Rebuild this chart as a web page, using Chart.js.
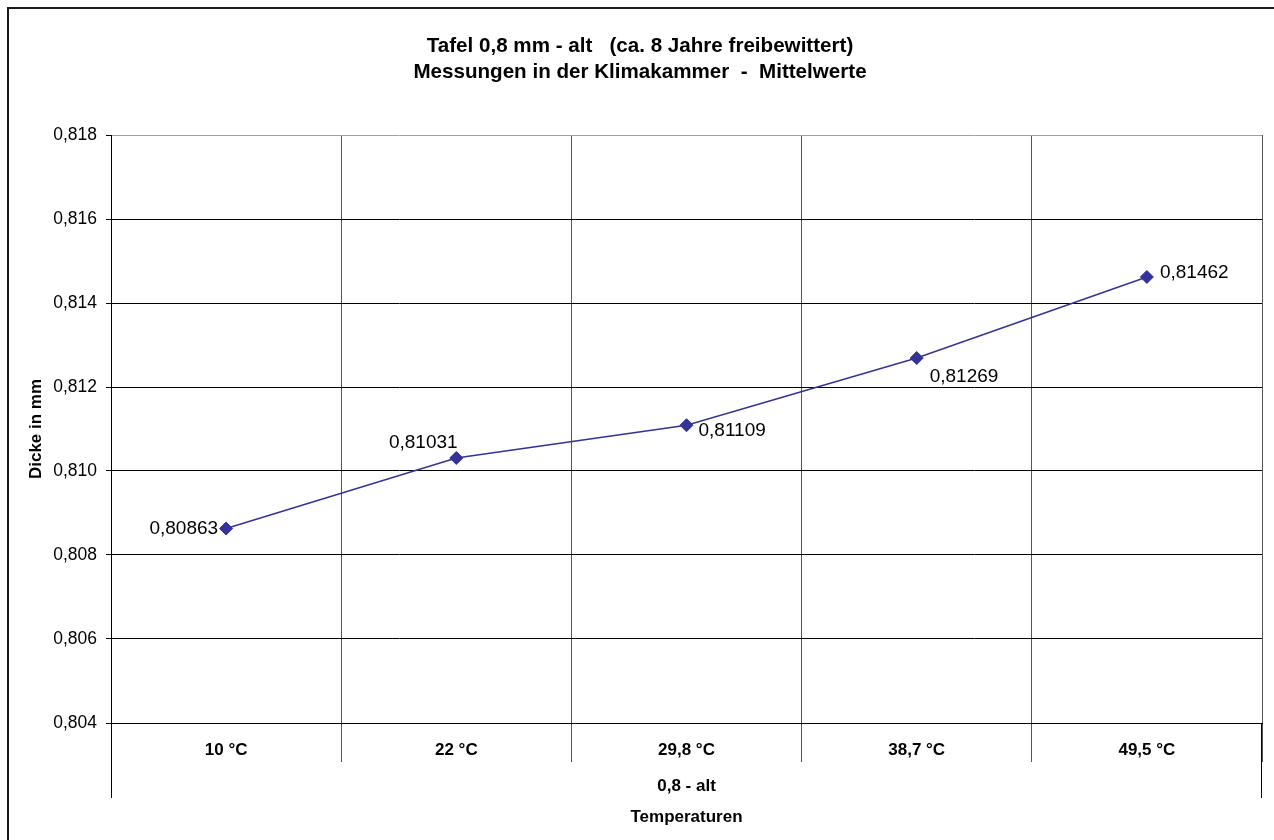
<!DOCTYPE html>
<html>
<head>
<meta charset="utf-8">
<title>Tafel 0,8 mm - alt</title>
<script src="https://cdn.jsdelivr.net/npm/chart.js@4/dist/chart.umd.min.js"></script>
<style>
  html, body { margin: 0; padding: 0; background: #fff; }
  canvas { display: block; }
</style>
</head>
<body>
<canvas id="myChart" width="1274" height="840"></canvas>
<script>
// temperatures in the climate chamber
var categories = ["10 °C", "22 °C", "29,8 °C", "38,7 °C", "49,5 °C"];
// mean thickness in mm
var dicke = [0.80863, 0.81031, 0.81109, 0.81269, 0.81462];

var yMin = 0.804;
var yMax = 0.818;
var yStep = 0.002;

var titleLines = ["Tafel 0,8 mm - alt   (ca. 8 Jahre freibewittert)", "Messungen in der Klimakammer  -  Mittelwerte"];
var groupLabel = "0,8 - alt";
var xTitle = "Temperaturen";
var yTitle = "Dicke in mm";

// where each value label sits next to its point: [dx, dy, align]
var labelPlacement = [
  [-8, 0, "right"],
  [-33, -15, "center"],
  [12, 6, "left"],
  [13, 19, "left"],
  [13, -4, "left"]
];

var FONT = "'Liberation Sans', Arial, sans-serif";
Chart.defaults.font.family = FONT;
Chart.defaults.color = "#000";

function komma(v, digits) {
  return v.toFixed(digits).replace(".", ",");
}

// white page with the frame around the whole chart
var frame = {
  id: "frame",
  beforeDraw: function(chart) {
    var ctx = chart.ctx;
    ctx.save();
    ctx.fillStyle = "#fff";
    ctx.fillRect(0, 0, chart.width, chart.height);
    ctx.strokeStyle = "#1a1a1a";
    ctx.lineWidth = 2;
    ctx.strokeRect(8, 8, chart.width + 20, chart.height + 20);
    ctx.restore();
  },
  afterDraw: function(chart) {
    // outer lines of the category group box
    var x = chart.scales.x, ctx = chart.ctx;
    ctx.save();
    ctx.strokeStyle = "#000";
    ctx.lineWidth = 1;
    ctx.beginPath();
    ctx.moveTo(Math.round(x.left) + 0.5, x.top);
    ctx.lineTo(Math.round(x.left) + 0.5, x.top + 75);
    ctx.moveTo(Math.round(x.right) - 0.5, x.top);
    ctx.lineTo(Math.round(x.right) - 0.5, x.top + 75);
    ctx.stroke();
    ctx.restore();
  }
};

// value labels like "0,81462" beside every point
var valueLabels = {
  id: "valueLabels",
  afterDatasetsDraw: function(chart) {
    var ctx = chart.ctx;
    var meta = chart.getDatasetMeta(0);
    var data = chart.data.datasets[0].data;
    ctx.save();
    ctx.font = "19px " + FONT;
    ctx.fillStyle = "#000";
    ctx.textBaseline = "middle";
    meta.data.forEach(function(pt, i) {
      var p = labelPlacement[i];
      ctx.textAlign = p[2];
      ctx.fillText(komma(data[i], 5), pt.x + p[0], pt.y + p[1]);
    });
    ctx.restore();
  }
};

var ctx = document.getElementById("myChart").getContext("2d");
var myChart = new Chart(ctx, {
  type: "line",
  data: {
    labels: categories,
    datasets: [{
      data: dicke,
      borderColor: "#333399",
      borderWidth: 1.5,
      backgroundColor: "#333399",
      pointStyle: "rectRot",
      pointRadius: 6.5,
      pointBorderWidth: 1,
      pointBorderColor: "#333399",
      tension: 0,
      fill: false
    }]
  },
  options: {
    responsive: false,
    animation: false,
    layout: { padding: { top: 0, left: 18, right: 12, bottom: 0 } },
    plugins: {
      legend: { display: false },
      tooltip: { enabled: false },
      title: {
        display: true,
        text: titleLines,
        color: "#000",
        font: { size: 20.6, weight: "bold", lineHeight: 26 / 20.6 },
        padding: { top: 33, bottom: 50 }
      }
    },
    scales: {
      x: {
        type: "category",
        offset: true,
        grid: {
          offset: true,
          drawTicks: true,
          tickLength: 39,
          color: function(c) {
            if (c.index === 0) return "#000";
            if (c.index === categories.length) return "#a0a0a0";
            return "#555";
          },
          tickColor: function(c) {
            if (c.index === 0 || c.index === categories.length) return "#000";
            return "#555";
          }
        },
        border: { color: "#000", width: 1 },
        ticks: {
          autoSkip: false,
          maxRotation: 0,
          padding: -22,
          font: { size: 17, weight: "bold" }
        },
        title: {
          display: true,
          text: [groupLabel, xTitle],
          font: { size: 17, weight: "bold", lineHeight: 31 / 17 },
          padding: { top: 0, bottom: 7.5 }
        },
        afterFit: function(scale) { scale.height = 117; }
      },
      y: {
        min: yMin,
        max: yMax,
        grid: {
          tickLength: 5,
          color: function(c) {
            return c.index === Math.round((yMax - yMin) / yStep) ? "#a0a0a0" : "#000";
          },
          tickColor: "#000"
        },
        border: { color: "#000", width: 1 },
        ticks: {
          stepSize: yStep,
          padding: 9,
          font: { size: 17.5 },
          callback: function(v) { return komma(v, 3); }
        },
        title: {
          display: true,
          text: yTitle,
          font: { size: 17, weight: "bold" },
          padding: { top: 8, bottom: 0 }
        },
        afterFit: function(scale) { scale.width = 93; }
      }
    }
  },
  plugins: [frame, valueLabels]
});
</script>
</body>
</html>
